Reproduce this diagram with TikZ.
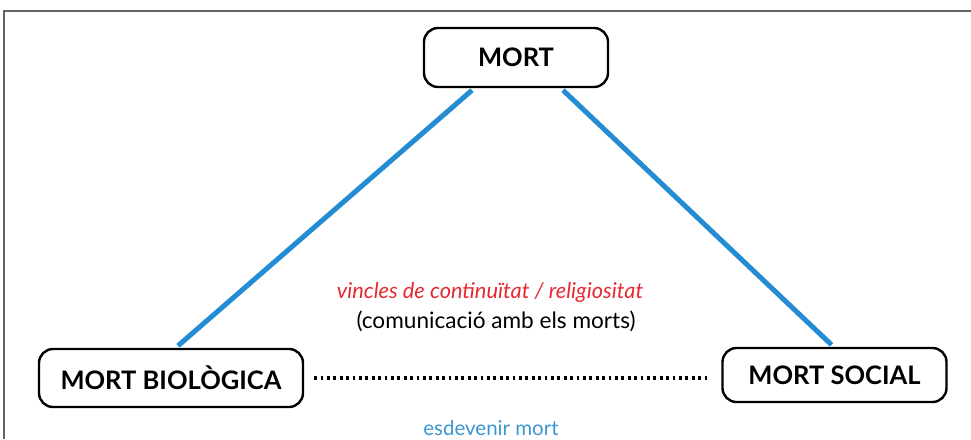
\documentclass[tikz,border=0pt]{standalone}
\usepackage{fontspec}
\setmainfont{Lato}
\usetikzlibrary{calc}
\definecolor{lineblue}{RGB}{35,140,210}
\definecolor{textblue}{RGB}{60,150,210}
\definecolor{textred}{RGB}{230,40,50}
\definecolor{framegray}{RGB}{100,100,100}
\tikzset{
  termbox/.style={draw=black, line width=2.4pt, rounded corners=14pt, fill=white,
    font=\fontsize{25.5}{28}\selectfont\bfseries, inner sep=0pt, anchor=center},
  blueline/.style={draw=lineblue, line width=5pt},
  dotline/.style={draw=black, line width=3.2pt, dash pattern=on 2.8pt off 3.6pt},
  frameline/.style={draw=framegray, line width=1.5pt}
}
\begin{document}
\begin{tikzpicture}[x=1pt,y=-1pt]
\useasboundingbox (0,0) rectangle (971,439);
\coordinate (fl) at (4,439);
\coordinate (fc) at (4,11);
\coordinate (fr) at (971,11);
\draw[frameline] (fl) -- (fc) -- (fr);
\node[termbox, minimum width=184pt, minimum height=59pt] (mort) at (516,57.5) {MORT};
\node[termbox, minimum width=264pt, minimum height=58pt] (bio) at (171,378) {MORT BIOLÒGICA};
\node[termbox, minimum width=224pt, minimum height=54pt] (soc) at (834.5,375) {MORT SOCIAL};
\draw[blueline] ($(mort.south)+(-44,2)$) -- ($(bio.north)+(7,-2)$);
\draw[blueline] ($(mort.south)+(47,2)$) -- ($(soc.north)+(-3,-2)$);
\draw[dotline] ($(bio.east)+(10,0)$) -- ($(soc.west)+(-14,3)$);
\node[anchor=base, text=textred, font=\fontsize{21.8}{24}\selectfont\itshape] (vinc) at (490,298) {vincles de continuïtat / religiositat};
\node[anchor=base, text=black, font=\fontsize{22.6}{24}\selectfont] (comu) at (496,328) {(comunicació amb els morts)};
\node[anchor=base, text=textblue, font=\fontsize{20.5}{24}\selectfont] (esde) at (491,435) {esdevenir mort};
\end{tikzpicture}
\end{document}
